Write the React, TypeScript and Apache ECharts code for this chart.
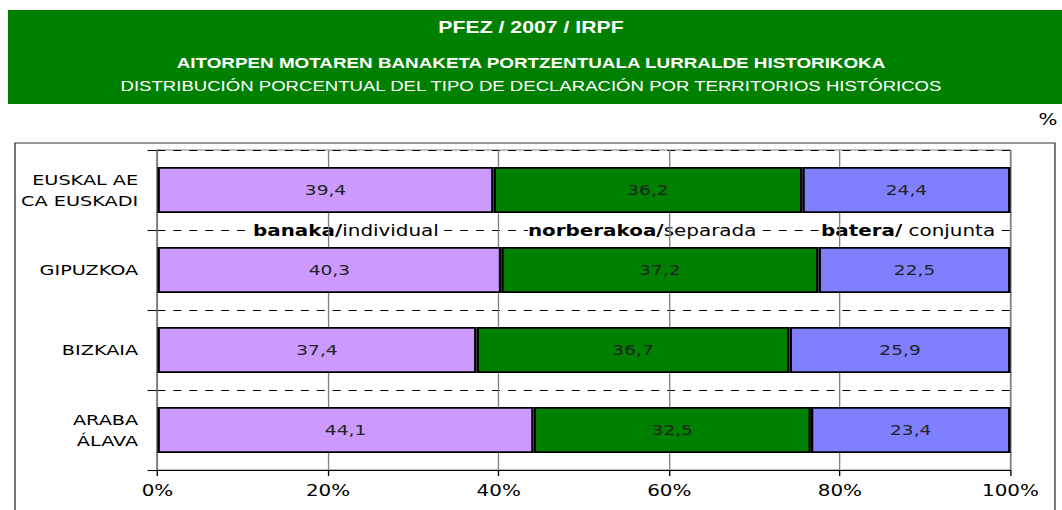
import React, { useEffect, useRef } from 'react';
import * as echarts from 'echarts';

const categories = ['EUSKAL AE\nCA EUSKADI', 'GIPUZKOA', 'BIZKAIA', 'ARABA\nÁLAVA'];
const individualValues = [39.4, 40.3, 37.4, 44.1];
const separadaValues = [36.2, 37.2, 36.7, 32.5];
const conjuntaValues = [24.4, 22.5, 25.9, 23.4];
const seriesNames = ['banaka/individual', 'norberakoa/separada', 'batera/ conjunta'];
const legendBold = ['banaka/', 'norberakoa/', 'batera/'];
const legendNormal = ['individual', 'separada', ' conjunta'];
const seriesColors = ['#CC99FF', '#008000', '#8080FF'];
const titleLines = [
  'PFEZ / 2007 / IRPF',
  'AITORPEN MOTAREN BANAKETA PORTZENTUALA LURRALDE HISTORIKOKA',
  'DISTRIBUCIÓN PORCENTUAL DEL TIPO DE DECLARACIÓN POR TERRITORIOS HISTÓRICOS',
];
const unitLabel = '%';

const BASE_W = 800;
const H = 510;
const SX = 1062 / BASE_W;

export default function App() {
  const ref = useRef<HTMLDivElement>(null);
  useEffect(() => {
    if (!ref.current) return;
    const chart = echarts.init(ref.current, undefined, { renderer: 'svg', width: BASE_W, height: H });
    const values = [individualValues, separadaValues, conjuntaValues];
    const legendX = [190.6, 397.7, 618.5];
    const fmt = (v: number) => String(v).replace('.', ',');
    chart.setOption({
      animation: false,
      backgroundColor: '#fff',
      grid: {
        left: 118.6,
        right: BASE_W - 761.2,
        top: 150,
        height: 320,
        show: true,
        borderColor: '#808080',
        borderWidth: 1,
        backgroundColor: 'transparent',
        z: 0,
      },
      xAxis: {
        type: 'value',
        min: 0,
        max: 100,
        interval: 20,
        z: 3,
        axisLine: { show: true, lineStyle: { color: '#000', width: 1 } },
        axisTick: { show: true, length: 6, lineStyle: { color: '#000' } },
        axisLabel: {
          formatter: '{value}%',
          fontFamily: 'DejaVu Sans',
          fontSize: 15,
          color: '#000',
          margin: 13,
        },
        splitLine: { show: true, lineStyle: { color: '#808080', width: 1 } },
      },
      yAxis: {
        type: 'category',
        data: categories,
        inverse: true,
        z: 1,
        axisLine: { show: true, lineStyle: { color: '#000', width: 1 } },
        axisTick: { show: true, length: 7.5, lineStyle: { color: '#000' } },
        axisLabel: {
          fontFamily: 'DejaVu Sans',
          fontSize: 14.5,
          color: '#000',
          margin: 14.5,
          lineHeight: 21,
          align: 'right',
        },
        splitLine: { show: true, lineStyle: { color: '#000', width: 1, type: [6, 6] } },
      },
      series: seriesNames.map((name, i) => ({
        name,
        type: 'bar',
        stack: 'total',
        barWidth: 46,
        z: 4,
        data: values[i],
        itemStyle: { color: seriesColors[i], borderColor: '#000', borderWidth: 1.8 },
        label: {
          show: true,
          position: 'inside',
          formatter: (p: any) => fmt(p.value),
          fontFamily: 'DejaVu Sans',
          fontSize: 14,
          color: '#222',
        },
      })),
      graphic: [
        {
          type: 'rect',
          z: -10,
          shape: { x: 11.3, y: 143, width: 783.4, height: 420 },
          style: { fill: 'none', stroke: '#333', lineWidth: 1 },
        },
        {
          type: 'rect',
          z: 10,
          shape: { x: 6, y: 10, width: BASE_W - 6, height: 94 },
          style: { fill: '#008000' },
        },
        {
          type: 'text',
          z: 11,
          x: 400,
          y: 27.5,
          style: {
            text: titleLines[0],
            fill: '#fff',
            font: 'bold 16px "Liberation Sans", Arial, sans-serif',
            align: 'center',
            verticalAlign: 'middle',
          },
        },
        {
          type: 'text',
          z: 11,
          x: 400,
          y: 63,
          style: {
            text: titleLines[1],
            fill: '#fff',
            font: 'bold 14.2px "Liberation Sans", Arial, sans-serif',
            align: 'center',
            verticalAlign: 'middle',
          },
        },
        {
          type: 'text',
          z: 11,
          x: 400,
          y: 86,
          style: {
            text: titleLines[2],
            fill: '#fff',
            font: '14px "Liberation Sans", Arial, sans-serif',
            align: 'center',
            verticalAlign: 'middle',
          },
        },
        {
          type: 'text',
          z: 11,
          x: 789.5,
          y: 120,
          style: {
            text: unitLabel,
            fill: '#000',
            font: '15px "DejaVu Sans", sans-serif',
            align: 'center',
            verticalAlign: 'middle',
          },
        },
        ...legendBold.map((b, i) => ({
          type: 'text',
          z: 2,
          x: legendX[i],
          y: 231,
          style: {
            text: `{b|${b}}{n|${legendNormal[i]}}`,
            align: 'left',
            verticalAlign: 'middle',
            backgroundColor: '#fff',
            rich: {
              b: { fontFamily: 'DejaVu Sans', fontWeight: 'bold', fontSize: 15, fill: '#000', color: '#000' },
              n: { fontFamily: 'DejaVu Sans', fontSize: 15, fill: '#000', color: '#000' },
            },
          },
        })),
      ],
    });
    return () => chart.dispose();
  }, []);
  return (
    <div
      ref={ref}
      style={{
        position: 'absolute',
        left: 0,
        top: 0,
        width: BASE_W,
        height: H,
        transform: `scaleX(${SX})`,
        transformOrigin: '0 0',
      }}
    />
  );
}
